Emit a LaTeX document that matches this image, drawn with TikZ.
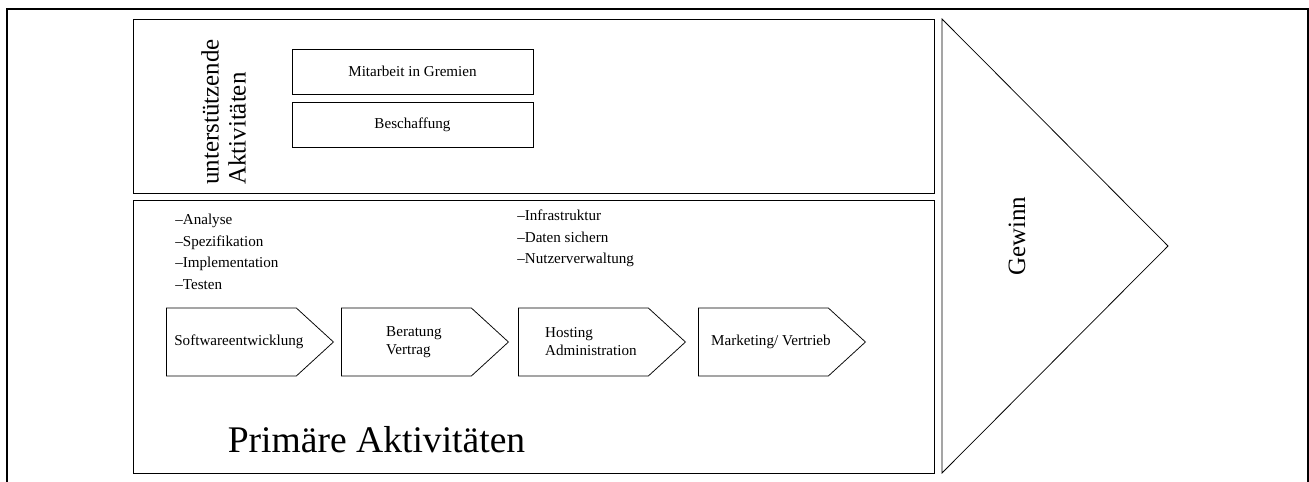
\documentclass[tikz,border=0pt]{standalone}
\usepackage{fontspec}
\setmainfont{Liberation Serif}
\usetikzlibrary{shapes.symbols,positioning}

\begin{document}
\begin{tikzpicture}[x=0.662pt,y=-0.662pt,
      frame/.style={line width=1.3pt},
      panel/.style={draw,line width=0.5pt},
      supbox/.style={draw,line width=0.5pt,minimum width=159.5pt,minimum height=29.8pt,font=\normalsize},
      chev/.style={signal,signal to=east,signal pointer angle=85,draw,line width=0.5pt,minimum width=110.6pt,minimum height=45pt,anchor=west,inner sep=0pt},
      chevtext/.style={align=left,inner sep=0pt,xshift=5pt},
      items/.style={anchor=north west,align=left,inner sep=0pt,font=\fontsize{10}{14.2}\selectfont},
      big/.style={font=\fontsize{16.5}{17.9}\selectfont}
    ]
    \useasboundingbox (0,0) rectangle (1309,482);
    \draw[frame] (7,482) -- (7,9) -- (1308,9) -- (1308,482);
    \draw[panel] (133,19) rectangle (934,193);
    \draw[panel] (133,200) rectangle (934,473);
    \draw[panel] (942,19) -- (1168,246) -- (942,473) -- cycle;

    \node[big,rotate=90,anchor=north west,align=left,inner sep=0pt] (sup) at (201,185) {unterstützende\\Aktivitäten};
    \node[supbox] (gremien) at (412.5,71.5) {Mitarbeit in Gremien};
    \node[supbox] (beschaffung) at (412.5,124.5) {Beschaffung};

    \node[items] (devlist) at (175,214) {--Analyse\\--Spezifikation\\--Implementation\\--Testen};
    \node[items] (hostlist) at (517,210) {--Infrastruktur\\--Daten sichern\\--Nutzerverwaltung};

    \node[chev] (dev) at (166,342) {};
    \node[chev] (consult) at (341,342) {};
    \node[chev] (host) at (518,342) {};
    \node[chev] (sales) at (698,342) {};
    \node[chevtext] (devtxt) at (dev.center) {Softwareentwicklung};
    \node[chevtext] (consulttxt) at (consult.center) {Beratung\\Vertrag};
    \node[chevtext] (hosttxt) at (host.center) {Hosting\\Administration};
    \node[chevtext] (salestxt) at (sales.center) {Marketing/ Vertrieb};

    \node[font=\Huge,anchor=base] (prim) at (376.5,452) {Primäre Aktivitäten};
    \node[big,rotate=90] (gain) at (1017,236) {Gewinn};
  \end{tikzpicture}
\end{document}
